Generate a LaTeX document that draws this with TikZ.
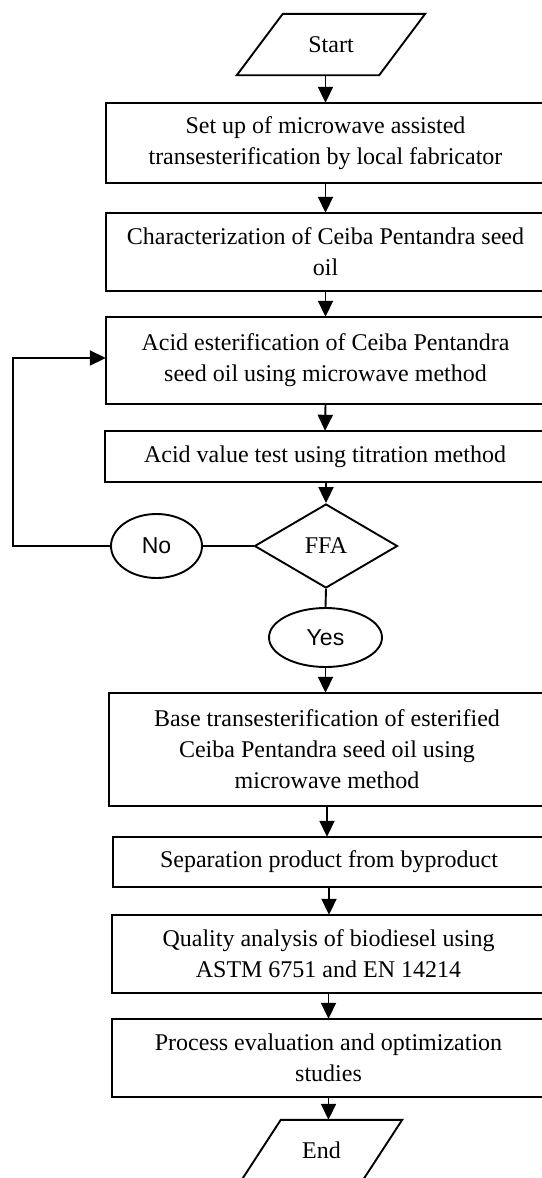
\documentclass[tikz,border=0pt]{standalone}
\usepackage{fontspec}
\setmainfont{Liberation Serif}
\newfontfamily\sansf{Liberation Sans}
\usetikzlibrary{shapes.geometric,arrows.meta}
\tikzset{
  procbox/.style={rectangle, inner sep=0pt, align=center, font=\fontsize{24}{31}\selectfont},
  decbox/.style={draw, line width=1.9pt, diamond, aspect=1.7, inner sep=0pt, font=\fontsize{24}{30}\selectfont},
  ansbox/.style={draw, line width=1.9pt, ellipse, inner sep=0pt, font=\sansf\fontsize{23}{28}\selectfont},
  termbox/.style={inner sep=0pt, font=\fontsize{24}{30}\selectfont},
  flowline/.style={line width=1.9pt},
  flowarrow/.style={line width=1.9pt, -{Triangle[length=16pt,width=15pt]}}
}
\begin{document}
\begin{tikzpicture}[x=1pt,y=-1pt]
\useasboundingbox (0,0) rectangle (541,1178);

% Start
\node[termbox, minimum width=188pt, minimum height=61pt] (start) at (331,44.5) {\raisebox{-5pt}{Start}};
\draw[flowline] ([xshift=46pt]start.north west) -- (start.north east) -- ([xshift=-46pt]start.south east) -- (start.south west) -- cycle;

\node[procbox, minimum width=439pt, minimum height=80pt] (b1) at (325.5,143) {Set up of microwave assisted\\transesterification by local fabricator};
\node[procbox, minimum width=439pt, minimum height=78pt] (b2) at (325.5,252) {Characterization of Ceiba Pentandra seed\\oil};
\node[procbox, minimum width=439pt, minimum height=87pt] (b3) at (325.5,360.5) {Acid esterification of Ceiba Pentandra\\seed oil using microwave method};
\node[procbox, minimum width=440pt, minimum height=51pt] (b4) at (325,456.5) {Acid value test using titration method};
\node[decbox, minimum width=143pt, minimum height=84pt] (ffa) at (326,546) {FFA};
\node[ansbox, minimum width=91pt, minimum height=64pt] (no) at (156.5,546) {No};
\node[ansbox, minimum width=113pt, minimum height=59pt] (yes) at (325.5,637.5) {Yes};
\node[procbox, minimum width=436pt, minimum height=113pt] (b5) at (327,749.5) {Base transesterification of esterified\\Ceiba Pentandra seed oil using\\microwave method};
\node[procbox, minimum width=432pt, minimum height=50pt] (b6) at (329,862) {Separation product from byproduct};
\node[procbox, minimum width=433pt, minimum height=78pt] (b7) at (328.5,954) {Quality analysis of biodiesel using\\ASTM 6751 and EN 14214};
\node[procbox, minimum width=433pt, minimum height=78pt] (b8) at (328.5,1058) {Process evaluation and optimization\\studies};

% box outlines (right sides lie beyond the picture's edge)
\foreach \bx in {b1,b2,b3,b4,b5,b6,b7,b8}
  \draw[flowline] ([xshift=20pt]\bx.north east) -- (\bx.north west) -- (\bx.south west) -- ([xshift=20pt]\bx.south east);

% End
\node[termbox, minimum width=161pt, minimum height=61pt] (end) at (321.5,1150.5) {\raisebox{-4pt}{End}};
\draw[flowline] ([xshift=40pt]end.north west) -- (end.north east) -- ([xshift=-40pt]end.south east) -- (end.south west) -- cycle;

\coordinate (lp) at (13,546);

\draw[flowarrow] (b1.north |- start.south) -- (b1.north);
\draw[flowarrow] (b1.south) -- (b2.north);
\draw[flowarrow] (b2.south) -- (b3.north);
\draw[flowarrow] (b3.south) -- (b4.north);
\draw[flowarrow] (b4.south -| ffa.north) -- (ffa.north);
\draw[flowline] (ffa.west) -- (no.east);
\draw[flowarrow] (no.west) -- (lp) |- ([yshift=2.5pt]b3.west);
\draw[flowline] (ffa.south) -- (yes.north);
\draw[flowarrow] (yes.south) -- (yes.south |- b5.north);
\draw[flowarrow] (b5.south) -- (b5.south |- b6.north);
\draw[flowarrow] (b6.south) -- (b6.south |- b7.north);
\draw[flowarrow] (b7.south) -- (b7.south |- b8.north);
\draw[flowarrow] (b8.south) -- (b8.south |- end.north);
\end{tikzpicture}
\end{document}
